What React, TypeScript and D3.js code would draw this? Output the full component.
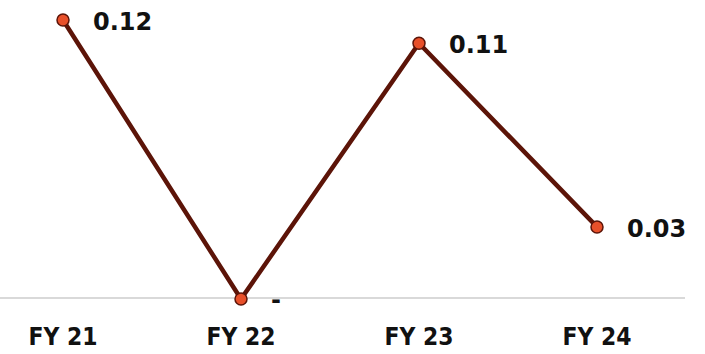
import React from "react";
import * as d3 from "d3";

const categories = ["FY 21", "FY 22", "FY 23", "FY 24"];
const values = [0.12, 0, 0.11, 0.031];
const valueLabels = ["0.12", "-", "0.11", "0.03"];

const W = 705;
const H = 354;

export default function App() {
  const x = d3.scalePoint<string>().domain(categories).range([63, 597]);
  const y = d3.scaleLinear().domain([0, 0.12]).range([299, 20]);
  const line = d3
    .line<number>()
    .x((_, i) => x(categories[i]) as number)
    .y((d) => y(d));
  const font = "'DejaVu Sans', Verdana, sans-serif";
  return (
    <svg
      width={W}
      height={H}
      style={{ position: "absolute", left: 0, top: 0, display: "block" }}
    >
      <rect width={W} height={H} fill="#ffffff" />
      <line x1={0} x2={685} y1={y(0) - 1} y2={y(0) - 1} stroke="#d9d9d9" strokeWidth={2} />
      <path d={line(values) || ""} fill="none" stroke="#5c1408" strokeWidth={4.5} strokeLinejoin="round" />
      {values.map((v, i) => (
        <circle
          key={i}
          cx={x(categories[i]) as number}
          cy={y(v)}
          r={6}
          fill="#e8502a"
          stroke="#5c1408"
          strokeWidth={1.5}
        />
      ))}
      {values.map((v, i) => (
        <text
          key={"l" + i}
          x={(x(categories[i]) as number) + 30}
          y={y(v) + (v === 0 ? 1 : 2)}
          dominantBaseline="central"
          fontFamily={font}
          fontWeight="bold"
          fontSize={24}
          fill="#111"
        >
          {valueLabels[i]}
        </text>
      ))}
      {categories.map((c) => (
        <text
          key={c}
          x={x(c) as number}
          y={345}
          textAnchor="middle"
          fontFamily={font}
          fontWeight="bold"
          fontSize={24}
          fill="#111"
          textLength={69}
          lengthAdjust="spacingAndGlyphs"
        >
          {c}
        </text>
      ))}
    </svg>
  );
}
